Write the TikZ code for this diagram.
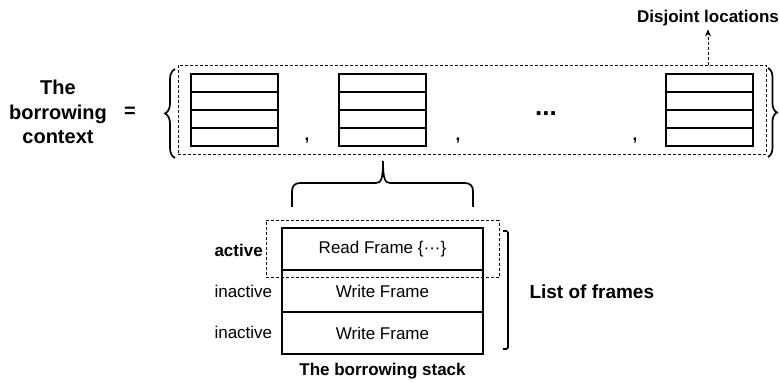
\documentclass[tikz,border=0pt]{standalone}
\usepackage{fontspec}
\setmainfont{Liberation Sans}
\usetikzlibrary{positioning,fit,arrows.meta,decorations.pathreplacing}

\begin{document}
\begin{tikzpicture}[
    x=1pt, y=-1pt,
    font=\fontsize{17}{20}\selectfont,
    cell/.style={
      draw, line width=2pt, inner sep=0pt,
      minimum width=87pt, minimum height=18pt
    },
    stackframe/.style={
      draw, line width=2pt, inner sep=0pt,
      minimum width=201pt, minimum height=42pt
    },
    dashbox/.style={draw, line width=1pt, dash pattern=on 3pt off 2pt, inner sep=0pt},
    heading/.style={font=\fontsize{17}{20}\selectfont\bfseries},
    curly/.style={line width=1.7pt, decorate, decoration={brace, amplitude=10pt}},
    arr/.style={-{Stealth[length=7pt,width=6pt]}, line width=1pt, dash pattern=on 3pt off 2pt}
  ]
    \useasboundingbox (0,0) rectangle (779,382);

    % the context: a set of stacks
    \node[font=\fontsize{20}{24.5}\selectfont\bfseries, align=center] (ctxlbl) at (58,112) {The\\borrowing\\context};
    \node[font=\fontsize{20}{24}\selectfont\bfseries] (eq) at (130,112) {=};

    \foreach \s/\x in {a/234.5, b/382.5, c/709.5}
      \foreach \r in {1,...,4}
        \node[cell] (\s\r) at (\x, 65+18*\r) {};

    \node[heading, anchor=base] (comma1) at (307,141) {,};
    \node[heading, anchor=base] (comma2) at (458,141) {,};
    \node[heading, anchor=base] (comma3) at (635,141) {,};
    \node[font=\fontsize{26}{28}\selectfont\bfseries, anchor=base] (dots) at (546,116) {...};

    \node[dashbox, fit=(a1)(c4), inner xsep=12pt, inner ysep=7.5pt] (ctx) {};
    \draw[curly] (175,158) -- (175,69);
    \draw[curly, decoration={amplitude=9pt}] (768,68) -- (768,157);

    \node[heading] (disj) at (708,18) {Disjoint locations};
    \draw[arr] (ctx.north -| disj) -- (disj.south);

    % one stack, opened up
    \draw[line width=1.7pt]
      (292,207) -- (292,191) .. controls (292,186) and (295,183) .. (300,183)
      -- (376,183) .. controls (381,183) and (383,179) .. (383,161)
      .. controls (383,179) and (385,183) .. (390,183)
      -- (465,183) .. controls (470,183) and (473,186) .. (473,191) -- (473,207);

    \node[stackframe] (read) at (382.5,249) {Read Frame \{···\}};
    \node[stackframe] (write1) at (382.5,291) {Write Frame};
    \node[stackframe] (write2) at (382.5,333) {Write Frame};
    \node[dashbox, fit=(read), inner xsep=15pt, inner ysep=6.5pt] (activebox) {};

    \node[heading, anchor=west] (act) at (211,250) {active};
    \node[anchor=west] (inact1) at (211,291) {inactive};
    \node[anchor=west] (inact2) at (211,332.5) {inactive};

    \draw[line width=1.7pt, rounded corners=1.5pt] (503,231) -- (508,231) -- (508,349) -- (503,349);
    \node[font=\fontsize{19}{22}\selectfont\bfseries, anchor=west] (lof) at (526,292) {List of frames};

    \node[heading] (stacklbl) at (382.5,371) {The borrowing stack};
  \end{tikzpicture}
\end{document}
